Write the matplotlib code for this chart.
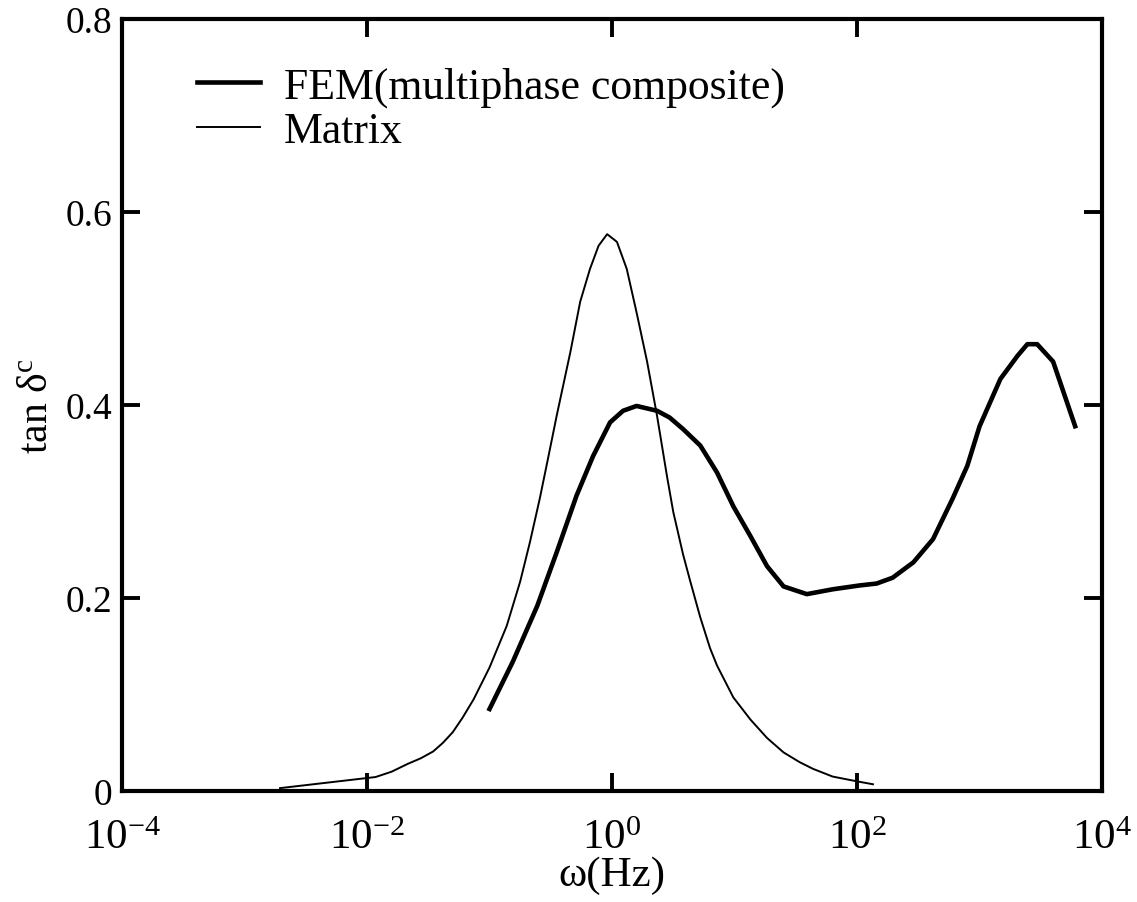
import numpy as np
import matplotlib
matplotlib.use('Agg')
import matplotlib.pyplot as plt
from matplotlib.ticker import FixedLocator, FixedFormatter

plt.rcParams['font.family'] = ['Liberation Serif', 'DejaVu Serif']
plt.rcParams['mathtext.fontset'] = 'custom'
plt.rcParams['mathtext.rm'] = 'Liberation Serif'
plt.rcParams['mathtext.it'] = 'Liberation Serif:italic'

# log10 of omega (Hz) and tan delta
matrix_logw = [-2.71, -1.93, -1.80, -1.67, -1.56, -1.46, -1.38, -1.30, -1.22, -1.13,
               -1.00, -0.86, -0.75, -0.67, -0.59, -0.53, -0.45, -0.34, -0.26, -0.18,
               -0.11, -0.04, 0.04, 0.12, 0.20, 0.286, 0.367, 0.45, 0.50, 0.58,
               0.637, 0.72, 0.80, 0.857, 0.99, 1.13, 1.265, 1.40, 1.53, 1.64,
               1.80, 2.0, 2.13]
matrix_tan = [0.003, 0.0145, 0.020, 0.028, 0.034, 0.041, 0.050, 0.061, 0.076, 0.095,
              0.128, 0.171, 0.217, 0.258, 0.303, 0.340, 0.390, 0.455, 0.507, 0.541,
              0.565, 0.577, 0.569, 0.541, 0.496, 0.445, 0.389, 0.325, 0.289, 0.245,
              0.218, 0.180, 0.148, 0.130, 0.097, 0.074, 0.055, 0.040, 0.030, 0.023,
              0.015, 0.010, 0.007]

fem_logw = [-1.0, -0.81, -0.61, -0.45, -0.29, -0.155, -0.016, 0.09, 0.20, 0.367,
            0.47, 0.58, 0.72, 0.857, 0.99, 1.13, 1.265, 1.40, 1.59, 1.80,
            2.02, 2.16, 2.29, 2.46, 2.62, 2.78, 2.90, 3.00, 3.17, 3.31,
            3.39, 3.47, 3.60, 3.78]
fem_tan = [0.085, 0.134, 0.192, 0.248, 0.306, 0.347, 0.382, 0.394, 0.399, 0.394,
           0.387, 0.375, 0.358, 0.330, 0.295, 0.264, 0.233, 0.212, 0.204, 0.209,
           0.213, 0.215, 0.221, 0.237, 0.261, 0.303, 0.337, 0.378, 0.427, 0.451,
           0.463, 0.463, 0.445, 0.378]

x_ticks = [1e-4, 1e-2, 1e0, 1e2, 1e4]
x_ticklabels = [r'$10^{-4}$', r'$10^{-2}$', r'$10^{0}$', r'$10^{2}$', r'$10^{4}$']
y_ticks = [0, 0.2, 0.4, 0.6, 0.8]
y_ticklabels = ['0', '0.2', '0.4', '0.6', '0.8']

fig = plt.figure(figsize=(11.37, 9.03), dpi=100)
ax = fig.add_axes([0.1073, 0.1229, 0.862, 0.855])

ax.plot(10 ** np.array(fem_logw), fem_tan, color='black', lw=3.3,
        label='FEM(multiphase composite)')
ax.plot(10 ** np.array(matrix_logw), matrix_tan, color='black', lw=1.4,
        label='Matrix')

ax.set_xscale('log')
ax.set_xlim(1e-4, 1e4)
ax.set_ylim(0, 0.8)

ax.xaxis.set_major_locator(FixedLocator(x_ticks))
ax.xaxis.set_major_formatter(FixedFormatter(x_ticklabels))
ax.xaxis.set_minor_locator(FixedLocator([]))
ax.yaxis.set_major_locator(FixedLocator(y_ticks))
ax.yaxis.set_major_formatter(FixedFormatter(y_ticklabels))

for s in ax.spines.values():
    s.set_linewidth(3.0)
ax.tick_params(axis='x', which='major', direction='in', top=True, length=13,
               width=2.8, labelsize=31, pad=20)
ax.tick_params(axis='y', which='major', direction='in', right=True, length=13,
               width=2.8, labelsize=27, pad=7)

ax.set_xlabel('ω(Hz)', fontsize=31, labelpad=-1)
ax.set_ylabel(r'tan δ$^{\mathrm{c}}$', fontsize=30, labelpad=7)

ax.legend(loc='upper left', bbox_to_anchor=(0.036, 0.99), frameon=False,
          fontsize=31.5, handlelength=1.45, handletextpad=0.55, labelspacing=0.1)

plt.savefig('out.png', dpi=100)
